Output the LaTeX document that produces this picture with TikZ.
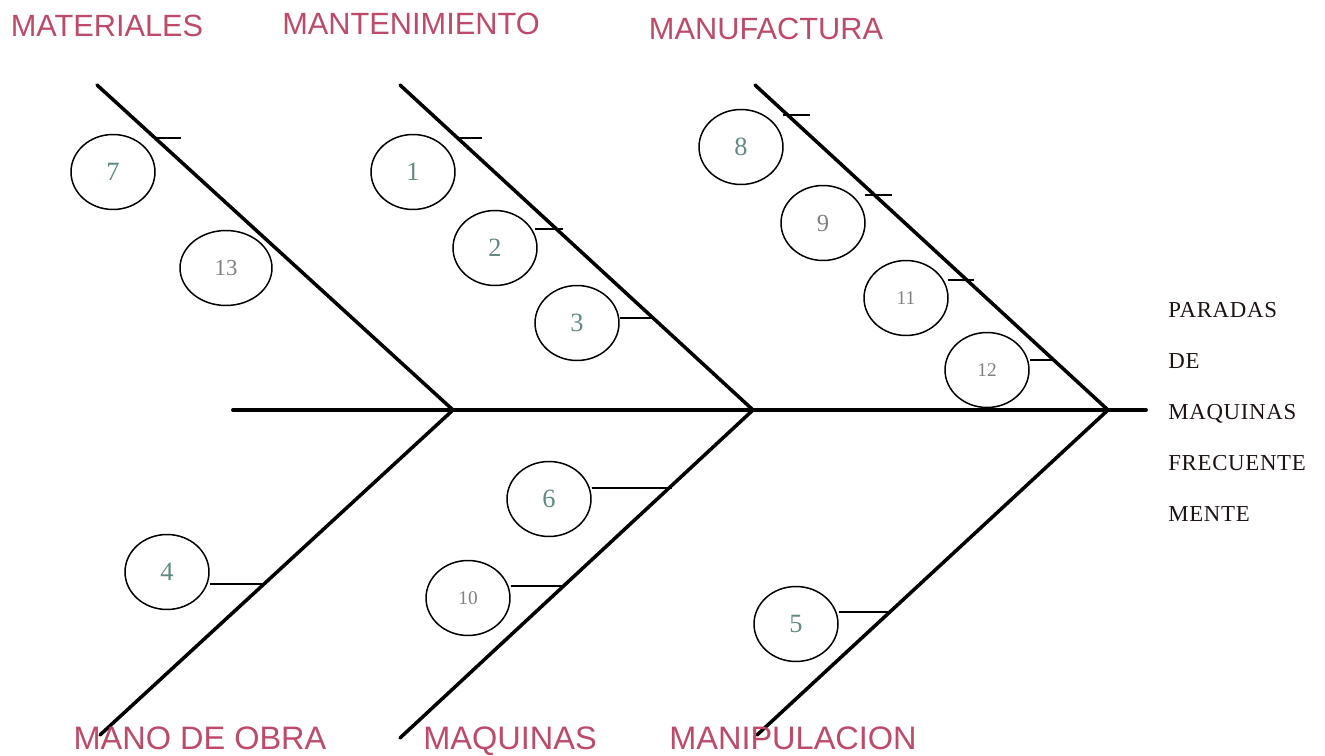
\documentclass[tikz,border=0pt]{standalone}
\usepackage{fontspec}
\usepackage{xcolor}
\usepackage{tikz}
\usetikzlibrary{shapes.geometric}
\setmainfont{Liberation Serif}
\newfontfamily\labelfont{Liberation Sans}
\newfontfamily\effectfont[LetterSpace=3]{Liberation Serif}
\definecolor{causered}{RGB}{188,74,104}
\definecolor{numteal}{RGB}{96,138,132}
\definecolor{numgray}{RGB}{128,128,128}
\definecolor{effectdark}{RGB}{28,18,18}
\tikzstyle{bone} = [line width=2pt,
                    line cap=round]
\tikzstyle{cause} = [ellipse,
                     draw=black,
                     line width=0.85pt,
                     minimum width=1.68cm,
                     minimum height=1.5cm,
                     inner sep=0pt,
                     text=numteal,
                     font=\fontsize{15}{15}\selectfont]
\tikzstyle{twodigit} = [text=numgray,
                        font=\fontsize{11}{11}\selectfont]
\tikzstyle{stub} = [line width=0.85pt]
\tikzstyle{category} = [text=causered,
                        anchor=base,
                        inner sep=0pt,
                        font=\labelfont\fontsize{17.5}{17.5}\selectfont]
\tikzstyle{effecttext} = [text=effectdark,
                          anchor=north west,
                          align=left,
                          inner sep=0pt,
                          font=\effectfont\fontsize{13}{29}\selectfont]

\begin{document}
\begin{tikzpicture}[x=0.02cm, y=-0.02cm]

    \useasboundingbox (0,0) rectangle (1325,756);

    \coordinate (tail)    at (233,410);
    \coordinate (head)    at (1146,410);
    \coordinate (jmat)    at (453,410);
    \coordinate (jmant)   at (753,410);
    \coordinate (jmanu)   at (1108,410);
    \coordinate (topmat)  at (97,85);
    \coordinate (topmant) at (400,85);
    \coordinate (topmanu) at (755,85);
    \coordinate (botobra) at (100,735);
    \coordinate (botmaq)  at (400,738);
    \coordinate (botmani) at (757,735);

    \draw [bone, line width=2.2pt] (tail) -- (head);
    \draw [bone] (topmat)  -- (jmat);
    \draw [bone] (topmant) -- (jmant);
    \draw [bone] (topmanu) -- (jmanu);
    \draw [bone] (jmat)    -- (botobra);
    \draw [bone] (jmant)   -- (botmaq);
    \draw [bone] (jmanu)   -- (botmani);

    \node (c7)  [cause]           at (113,172) {7};
    \node (c13) [cause, twodigit, minimum width=1.84cm, font=\fontsize{13}{13}\selectfont] at (226,268) {13};
    \node (c1)  [cause]           at (413,172) {1};
    \node (c2)  [cause]           at (495,248) {2};
    \node (c3)  [cause]           at (577,323) {3};
    \node (c8)  [cause]           at (741,147) {8};
    \node (c9)  [cause, twodigit, font=\fontsize{14}{14}\selectfont] at (823,223) {9};
    \node (c11) [cause, twodigit] at (906,298) {11};
    \node (c12) [cause, twodigit] at (987,370) {12};
    \node (c4)  [cause]           at (167,572) {4};
    \node (c6)  [cause]           at (549,499) {6};
    \node (c10) [cause, twodigit] at (468,598) {10};
    \node (c5)  [cause]           at (796,624) {5};

    \coordinate (k3)  at (653,318);
    \coordinate (k12) at (1054,360);
    \coordinate (k4)  at (263,584);
    \coordinate (k6)  at (672,488);
    \coordinate (k10) at (565,586);
    \coordinate (k5)  at (890,612);

    \draw [stub] (c3.east  |- k3)  -- (k3);
    \draw [stub] (c12.east |- k12) -- (k12);
    \draw [stub] (c4.east  |- k4)  -- (k4);
    \draw [stub] (c6.east  |- k6)  -- (k6);
    \draw [stub] (c10.east |- k10) -- (k10);
    \draw [stub] (c5.east  |- k5)  -- (k5);

    \foreach \xa/\xb/\yy in {155/181/138, 456/482/138, 535/563/229,
                             783/810/115, 865/892/195, 948/974/280}
        \draw [stub] (\xa,\yy) -- (\xb,\yy);

    \node (materiales) [category] at (107,37)  {MATERIALES};
    \node (mantenim)   [category] at (411,35)  {MANTENIMIENTO};
    \node (manufact)   [category] at (766,40)  {MANUFACTURA};
    \node (manoobra)   [category, font=\labelfont\fontsize{18.5}{18.5}\selectfont] at (200,749) {MANO DE OBRA};
    \node (maquinas)   [category, font=\labelfont\fontsize{18.5}{18.5}\selectfont] at (510,749) {MAQUINAS};
    \node (manipul)    [category, font=\labelfont\fontsize{18.5}{18.5}\selectfont] at (793,749) {MANIPULACION};

    \node (effect) [effecttext] at (1168,302) {PARADAS\\DE\\MAQUINAS\\FRECUENTE\\MENTE};

\end{tikzpicture}
\end{document}
